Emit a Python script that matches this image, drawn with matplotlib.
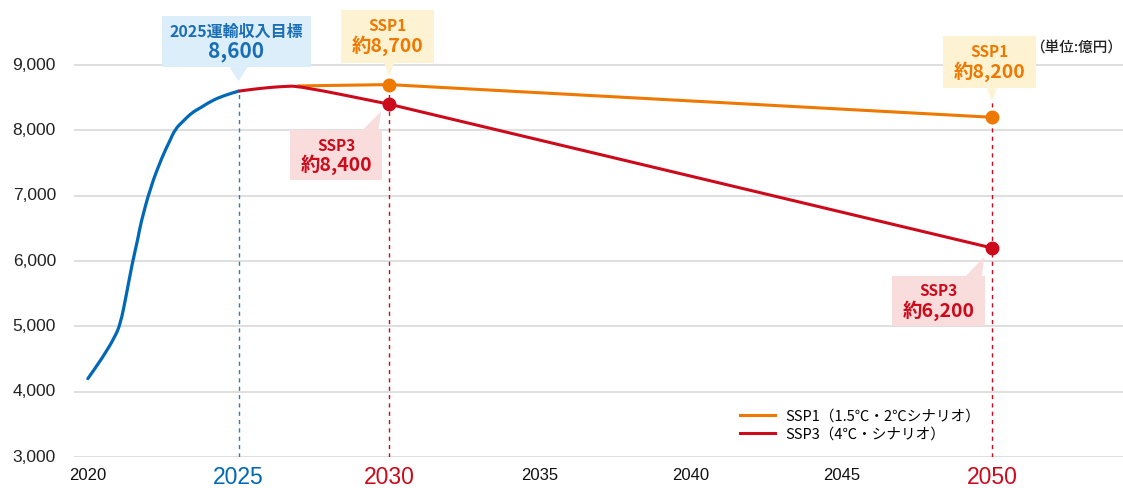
import numpy as np
import matplotlib
matplotlib.use("Agg")
import matplotlib.pyplot as plt
from matplotlib.patches import Polygon, Rectangle, PathPatch
from matplotlib.path import Path

JP = ["Noto Sans CJK JP", "DejaVu Sans"]
NUM = ["Liberation Sans", "DejaVu Sans"]

BLUE = "#0068b7"
ORANGE = "#ee7800"
RED = "#cc0a1c"

# actual revenue path up to the 2025 target
hist_years = [2020.0, 2020.5, 2020.9, 2021.08, 2021.26, 2021.47, 2021.67, 2021.75,
              2022.08, 2022.46, 2022.72, 2022.9, 2023.16, 2023.45, 2023.72, 2024.1,
              2024.5, 2025.0]
hist_vals = [4200, 4530, 4840, 5040, 5440, 5960, 6360, 6570,
             7130, 7590, 7840, 8020, 8140, 8270, 8340, 8450,
             8530, 8600]

# scenario projections
ssp1_years = [2027.0, 2030, 2050]
ssp1_vals = [8680, 8700, 8200]
ssp3_years = [2025, 2025.5, 2026, 2026.5, 2027.0, 2030, 2050]
ssp3_vals = [8600, 8630, 8655, 8672, 8680, 8400, 6200]

y_ticks = [3000, 4000, 5000, 6000, 7000, 8000, 9000]
x_ticks = [2020, 2025, 2030, 2035, 2040, 2045, 2050]
x_tick_colors = {2025: BLUE, 2030: RED, 2050: RED}

W, H = 1123, 488
fig = plt.figure(figsize=(W / 100, H / 100), dpi=100)
ax = fig.add_axes([74 / W, 31 / H, 1 - 74 / W, 1 - 31 / H])
ax.set_xlim(2019.54, 2054.35)
ax.set_ylim(3000, 9995)
ax.axis("off")


def smooth_path(xs, ys):
    # quadratic bezier through segment midpoints, control at each point
    pts = np.column_stack([xs, ys])
    mids = (pts[:-1] + pts[1:]) / 2
    verts = [pts[0], mids[0]]
    codes = [Path.MOVETO, Path.LINETO]
    for i in range(1, len(pts) - 1):
        verts += [pts[i], mids[i]]
        codes += [Path.CURVE3, Path.CURVE3]
    verts.append(pts[-1])
    codes.append(Path.LINETO)
    return Path(verts, codes)


# gridlines and y labels
for v in y_ticks:
    ax.axhline(v, color="#dcdcdc", lw=2.0 if v == 3000 else 1.3, zorder=0)
    ax.annotate(f"{v:,}", (0, v), xycoords=ax.get_yaxis_transform(),
                xytext=(-13, 0), textcoords="offset points",
                ha="right", va="center", fontsize=12.5, family=NUM, color="#222222")

# x labels under the baseline
for yr in x_ticks:
    big = yr in x_tick_colors
    ax.annotate(str(yr), (yr, 3000), xytext=(0, -8 if not big else -6.5),
                textcoords="offset points", ha="center", va="top",
                fontsize=16.5 if big else 12, family=NUM,
                color=x_tick_colors.get(yr, "#111111"))

# milestone guides
ax.plot([2025, 2025], [3000, hist_vals[-1]], color="#2a7cc7", lw=1, ls=(0, (3, 3)), zorder=1)
ax.plot([2030, 2030], [3000, ssp1_vals[1]], color=RED, lw=1, ls=(0, (3, 3)), zorder=1)
ax.plot([2050, 2050], [3000, ssp1_vals[2] + 270], color=RED, lw=1, ls=(0, (3, 3)), zorder=1)

ax.add_patch(PathPatch(smooth_path(hist_years, hist_vals), facecolor="none",
                       edgecolor=BLUE, lw=2.3, capstyle="round", zorder=3))
ax.plot(ssp1_years, ssp1_vals, color=ORANGE, lw=2.2, zorder=3,
        label="SSP1（1.5℃・2℃シナリオ）")
ax.add_patch(PathPatch(smooth_path(ssp3_years[:6], ssp3_vals[:6]), facecolor="none",
                       edgecolor=RED, lw=2.2, zorder=4))
ax.plot(ssp3_years[-2:], ssp3_vals[-2:], color=RED, lw=2.2, zorder=4,
        label="SSP3（4℃・シナリオ）")
ax.plot(ssp1_years[1:], ssp1_vals[1:], "o", color=ORANGE, ms=9, zorder=5)
ax.plot(ssp3_years[-2:], ssp3_vals[-2:], "o", color=RED, ms=9, zorder=5)

leg = ax.legend(loc="upper left", bbox_to_anchor=(653 / (W - 74), 1 - 396 / (H - 31)),
                frameon=False, prop={"family": JP, "size": 10.5},
                handlelength=2.4, handletextpad=0.7, labelspacing=0.3)

fig.canvas.draw()


def to_px(x, y):
    dx, dy = ax.transData.transform((x, y))
    return dx, H - dy


def fig_xy(x, y):
    return (x / W, 1 - y / H)


def callout(anchor, rect, base, tip, lines, fg, bg):
    ax_, ay_ = to_px(*anchor)
    x0, x1, y0, y1 = rect[0] + ax_, rect[1] + ax_, rect[2] + ay_, rect[3] + ay_
    fig.add_artist(Rectangle(fig_xy(x0, y1), (x1 - x0) / W, (y1 - y0) / H,
                             transform=fig.transFigure, facecolor=bg,
                             edgecolor="none", zorder=6))
    by = y1 if rect[2] < 0 else y0
    tri = [fig_xy(base[0] + ax_, by), fig_xy(base[1] + ax_, by),
           fig_xy(tip[0] + ax_, tip[1] + ay_)]
    fig.add_artist(Polygon(tri, closed=True, transform=fig.transFigure,
                           facecolor=bg, edgecolor="none", zorder=6))
    cx = (x0 + x1) / 2
    for frac, (txt, size) in zip((0.31, 0.69), lines):
        fig.text(*fig_xy(cx, y0 + frac * (y1 - y0)), txt, ha="center", va="center",
                 family=JP, fontsize=size, fontweight="bold", color=fg, zorder=7)


callout((2025, hist_vals[-1]), (-77, 72, -75, -24), (-9, 9), (0, -10),
        [("2025運輸収入目標", 11.5), ("8,600", 15)], "#1a6eb5", "#dceefa")
callout((2030, ssp1_vals[1]), (-48, 45, -75, -22), (-5, 5), (0, -8),
        [("SSP1", 11), ("約8,700", 14)], ORANGE, "#fdf3d3")
callout((2050, ssp1_vals[2]), (-49, 44, -81, -29), (-5, 5), (0, -16),
        [("SSP1", 11), ("約8,200", 14)], ORANGE, "#fdf3d3")
callout((2030, ssp3_vals[-2]), (-99, -7, 26, 76), (-27, -11), (-8, 7),
        [("SSP3", 11), ("約8,400", 14)], RED, "#f9dcdc")
callout((2050, ssp3_vals[-1]), (-100, -7, 28, 78), (-26, -10), (-8, 9),
        [("SSP3", 11), ("約6,200", 14)], RED, "#f9dcdc")

fig.text(*fig_xy(1076, 49), "（単位:億円）", ha="center", va="center",
         family=JP, fontsize=10.5, fontweight="medium", color="#222222")

fig.savefig("out.png", dpi=100)
